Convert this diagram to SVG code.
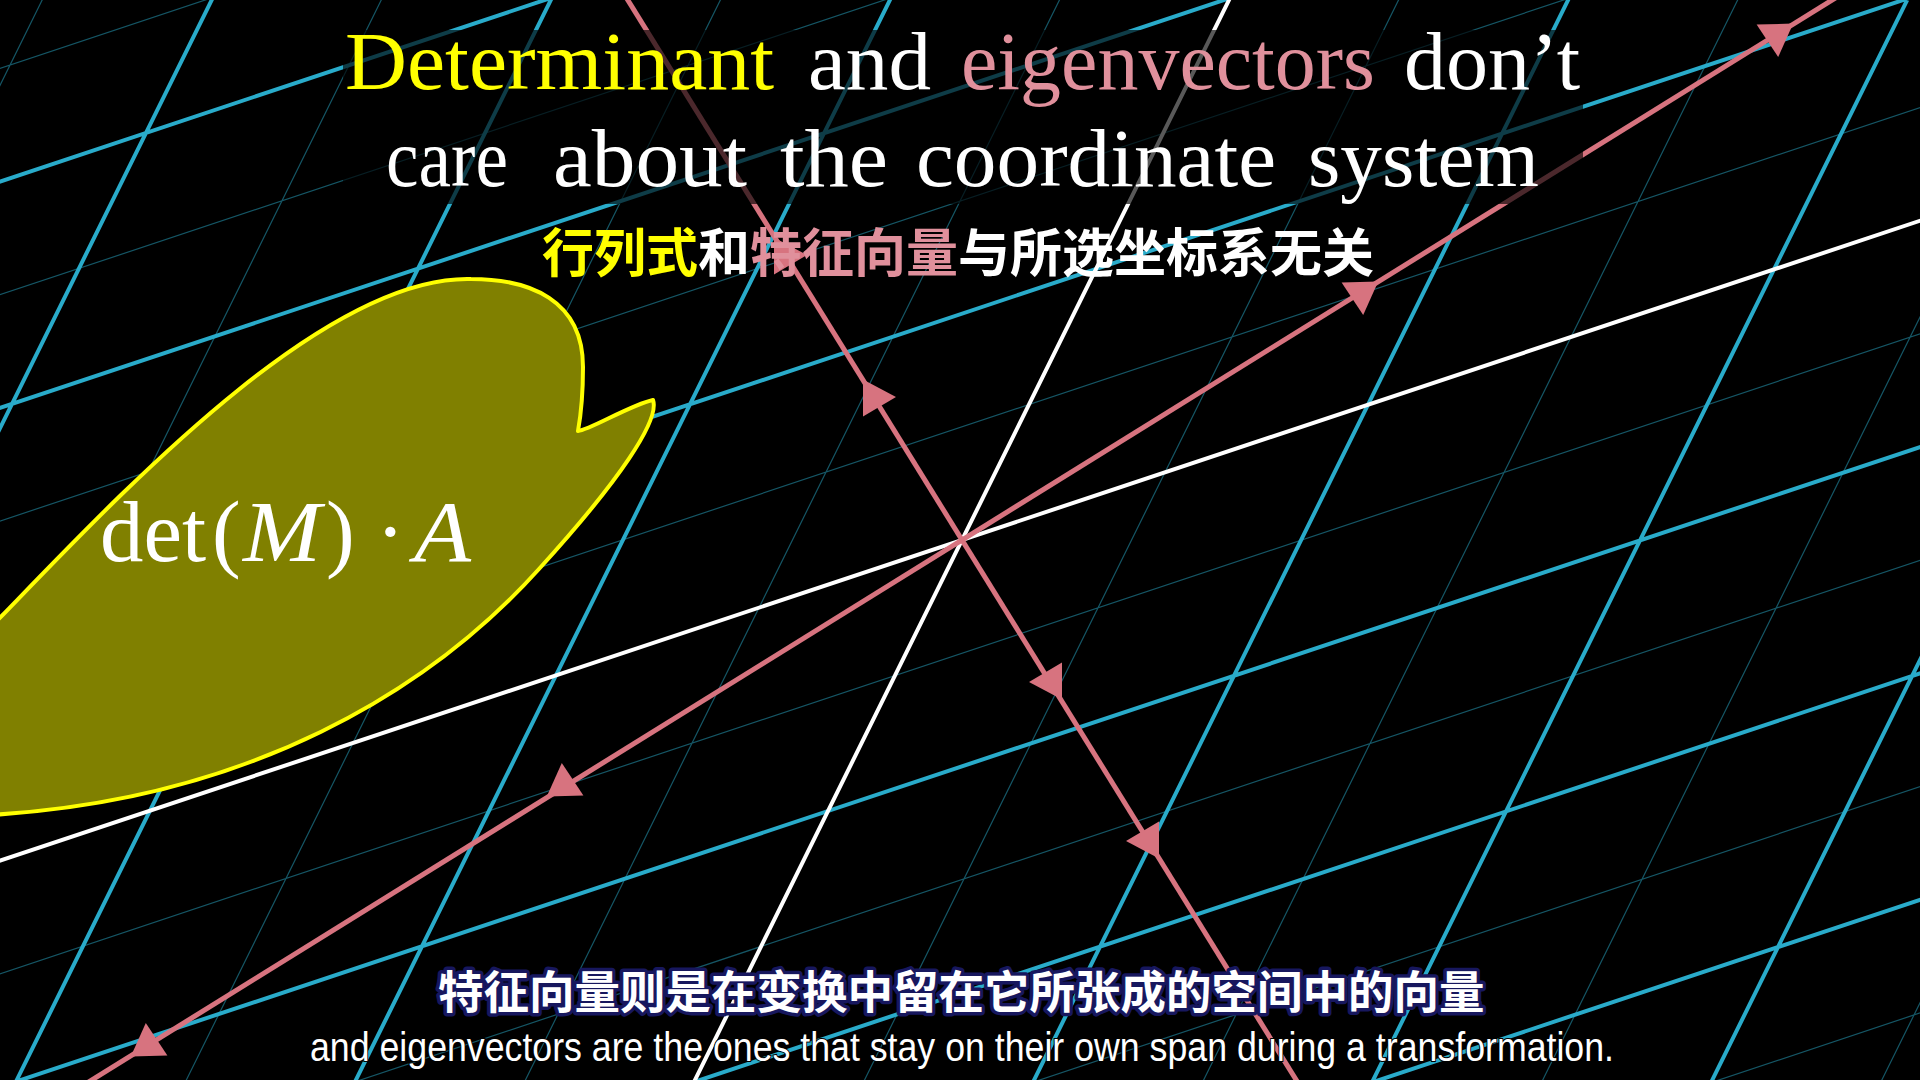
<svg xmlns="http://www.w3.org/2000/svg" xmlns:xlink="http://www.w3.org/1999/xlink" width="1920" height="1080" viewBox="0 0 1920 1080">
<style>
.t{fill:none;stroke:#29ABCA;stroke-opacity:0.5;stroke-width:1.2;vector-effect:non-scaling-stroke}
.b{fill:none;stroke:#29ABCA;stroke-width:4;vector-effect:non-scaling-stroke}
.w{fill:none;stroke:#FFFFFF;stroke-width:4;vector-effect:non-scaling-stroke}
.p{fill:none;stroke:#D7737F;stroke-width:5}
.tri{fill:#D7737F}
.cm{font-family:"Liberation Serif","DejaVu Serif",serif;font-size:82px;fill:#FFFFFF}
.math{font-family:"Liberation Serif","DejaVu Serif",serif;font-size:86px;fill:#FFFFFF}
.zh{font-family:"Noto Sans CJK SC","Noto Sans",sans-serif;font-size:52px;font-weight:700}
.sub{font-family:"Noto Sans CJK SC","Noto Sans",sans-serif;font-size:45.5px;font-weight:700;fill:#FFFFFF;stroke:#17175E;stroke-width:7;stroke-linejoin:round;paint-order:stroke}
.en{font-family:"Liberation Sans",Arial,sans-serif;font-size:40px;fill:#FFFFFF;stroke:#000;stroke-width:2;paint-order:stroke}
</style>
<defs>
<polygon id="triDown" points="-19.4,-10.4 17.2,-11.4 2.2,21.9"/>
<polygon id="triUp" points="19.4,10.4 -17.2,11.4 -2.2,-21.9"/>
<polygon id="triRight" points="-11,-18.5 -11,18.5 22,-1"/>
<polygon id="triLeft" points="11,18.5 11,-18.5 -22,1"/>
</defs>
<rect x="0" y="0" width="1920" height="1080" fill="#000000"/>
<g id="grid" transform="matrix(406 -135.3 134 -271 962 540)">
<path class="t" d="M-4.5,-6V6M-3.5,-6V6M-2.5,-6V6M-1.5,-6V6M-0.5,-6V6M0.5,-6V6M1.5,-6V6M2.5,-6V6M3.5,-6V6M4.5,-6V6M-6,-4.5H6M-6,-3.5H6M-6,-2.5H6M-6,-1.5H6M-6,-0.5H6M-6,0.5H6M-6,1.5H6M-6,2.5H6M-6,3.5H6M-6,4.5H6"/>
<path class="b" d="M-4,-6V6M-3,-6V6M-2,-6V6M-1,-6V6M1,-6V6M2,-6V6M3,-6V6M4,-6V6M-6,-4H6M-6,-3H6M-6,-2H6M-6,-1H6M-6,1H6M-6,2H6M-6,3H6M-6,4H6"/>
<path class="w" d="M0,-6V6M-6,0H6"/>
</g>
<g id="eigen">
<path class="p" d="M-10,1143.2L1930,-60.7"/>
<path class="p" d="M615.4,-20L1308.6,1100"/>
<use class="tri" xlink:href="#triDown" x="1361" y="293"/>
<use class="tri" xlink:href="#triDown" x="1776" y="35"/>
<use class="tri" xlink:href="#triUp" x="564" y="785"/>
<use class="tri" xlink:href="#triUp" x="148" y="1045"/>
<use class="tri" xlink:href="#triRight" x="874" y="398"/>
<use class="tri" xlink:href="#triRight" x="785" y="256"/>
<use class="tri" xlink:href="#triLeft" x="1051" y="681"/>
<use class="tri" xlink:href="#triLeft" x="1148" y="840"/>
</g>
<g id="blob">
<path d="M-10,628C110,505 320,275 471,279C530,279 583,300 583,367C583,400 580,420 578,431C590,430 630,405 653,400C660,420 620,480 539,569C430,690 250,800 -10,815Z" fill="#808000" stroke="#FFFF00" stroke-width="4" stroke-linejoin="round"/>
<text class="math" x="100" y="561" textLength="106" lengthAdjust="spacingAndGlyphs">det</text>
<text class="math" x="212" y="561">(</text>
<text class="math" x="243" y="561" font-style="italic" textLength="78" lengthAdjust="spacingAndGlyphs">M</text>
<text class="math" x="326" y="561">)</text>
<text class="math" x="376" y="561">·</text>
<text class="math" x="414" y="561" font-style="italic" textLength="57" lengthAdjust="spacingAndGlyphs">A</text>
</g>
<g id="title">
<rect x="343" y="30" width="1240" height="174" fill="#000000" opacity="0.65"/>
<text class="cm" x="345" y="89" fill="#FFFF00" style="fill:#FFFF00" textLength="429" lengthAdjust="spacingAndGlyphs">Determinant</text>
<text class="cm" x="808" y="89" textLength="123" lengthAdjust="spacingAndGlyphs">and</text>
<text class="cm" x="961" y="89" style="fill:#E0909C" textLength="414" lengthAdjust="spacingAndGlyphs">eigenvectors</text>
<text class="cm" x="1404" y="89" textLength="176" lengthAdjust="spacingAndGlyphs">don’t</text>
<text class="cm" x="386" y="186" textLength="122" lengthAdjust="spacingAndGlyphs">care</text>
<text class="cm" x="553" y="186" textLength="194" lengthAdjust="spacingAndGlyphs">about</text>
<text class="cm" x="780" y="186" textLength="108" lengthAdjust="spacingAndGlyphs">the</text>
<text class="cm" x="916" y="186" textLength="360" lengthAdjust="spacingAndGlyphs">coordinate</text>
<text class="cm" x="1308" y="186" textLength="231" lengthAdjust="spacingAndGlyphs">system</text>
</g>
<g id="title-zh">
<text class="zh" y="272"><tspan x="542" fill="#FFFF00">行列式</tspan><tspan fill="#FFFFFF">和</tspan><tspan fill="#E0909C">特征向量</tspan><tspan fill="#FFFFFF">与所选坐标系无关</tspan></text>
</g>
<g id="subtitles">
<text class="sub" x="438" y="1009">特征向量则是在变换中留在它所张成的空间中的向量</text>
<text class="en" x="310" y="1061" textLength="1304" lengthAdjust="spacingAndGlyphs">and eigenvectors are the ones that stay on their own span during a transformation.</text>
</g>
</svg>
